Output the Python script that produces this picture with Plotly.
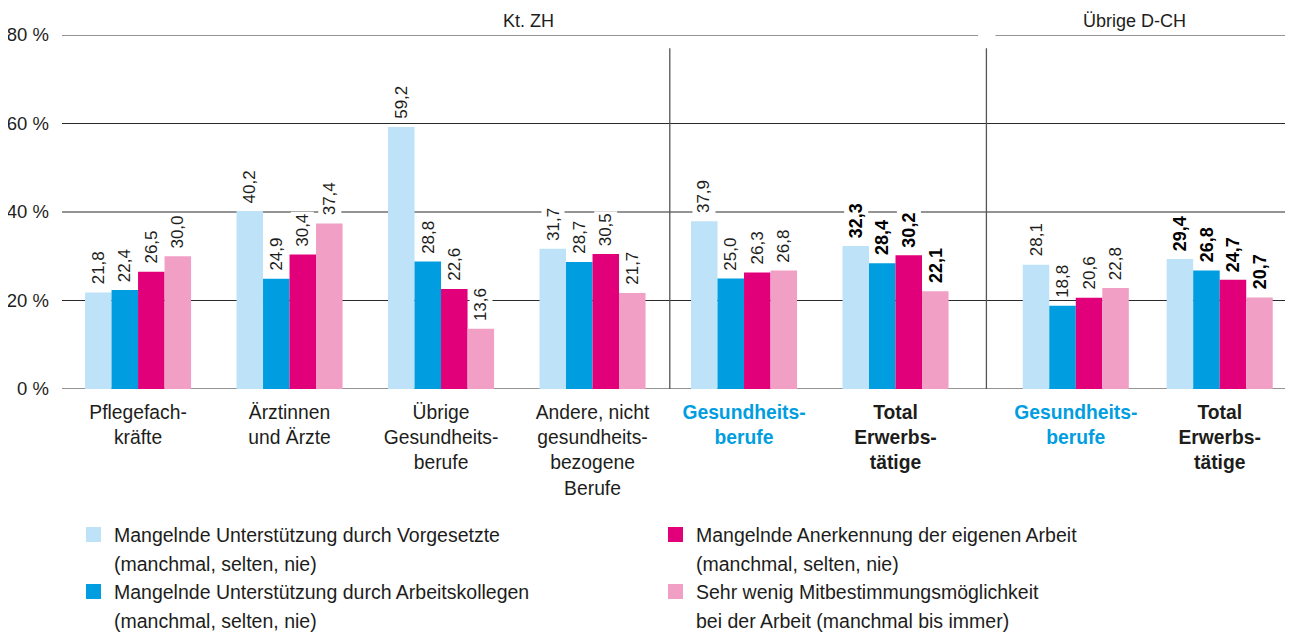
import plotly.graph_objects as go

# ---------------- data ----------------
categories = [
    "Pflegefach-<br>kräfte",
    "Ärztinnen<br>und Ärzte",
    "Übrige<br>Gesundheits-<br>berufe",
    "Andere, nicht<br>gesundheits-<br>bezogene<br>Berufe",
    "Gesundheits-<br>berufe",
    "Total<br>Erwerbs-<br>tätige",
    "Gesundheits-<br>berufe",
    "Total<br>Erwerbs-<br>tätige",
]
category_kind = ["plain", "plain", "plain", "plain", "health", "total", "health", "total"]
regions = ["Kt. ZH", "Übrige D-CH"]

series_names = [
    "Mangelnde Unterstützung durch Vorgesetzte (manchmal, selten, nie)",
    "Mangelnde Unterstützung durch Arbeitskollegen (manchmal, selten, nie)",
    "Mangelnde Anerkennung der eigenen Arbeit (manchmal, selten, nie)",
    "Sehr wenig Mitbestimmungsmöglichkeit bei der Arbeit (manchmal bis immer)",
]
legend_lines = [
    ["Mangelnde Unterstützung durch Vorgesetzte", "(manchmal, selten, nie)"],
    ["Mangelnde Unterstützung durch Arbeitskollegen", "(manchmal, selten, nie)"],
    ["Mangelnde Anerkennung der eigenen Arbeit", "(manchmal, selten, nie)"],
    ["Sehr wenig Mitbestimmungsmöglichkeit", "bei der Arbeit (manchmal bis immer)"],
]

vorgesetzte = [21.8, 40.2, 59.2, 31.7, 37.9, 32.3, 28.1, 29.4]
kollegen = [22.4, 24.9, 28.8, 28.7, 25.0, 28.4, 18.8, 26.8]
anerkennung = [26.5, 30.4, 22.6, 30.5, 26.3, 30.2, 20.6, 24.7]
mitbestimmung = [30.0, 37.4, 13.6, 21.7, 26.8, 22.1, 22.8, 20.7]

y_ticks = [0, 20, 40, 60, 80]
y_ticktext = ["0 %", "20 %", "40 %", "60 %", "80 %"]

# ---------------- styling / layout ----------------
colors = ["#BEE3F8", "#009EE0", "#E2007A", "#F29FC5"]
BLUE_TXT = "#009EE0"
INK = "#1d1d1b"
FONT = "Liberation Sans, Arial, Helvetica, sans-serif"

OFF = 8  # page body margin of the html page
W, H = 1293 - OFF, 636 - OFF
# plot area in screen pixels: x 62..1290, y 35..389
SX0, SX1, SY0, SY1 = 62, 1290, 35, 389
ML, MT = SX0 - OFF, SY0 - OFF
MR = W - (SX1 - OFF)
MB = H - (SY1 - OFF)
PW, PH = SX1 - SX0, SY1 - SY0

group_x = [0, 1, 2, 3, 4, 5, 6.19, 7.14]
XR = [-0.502, 7.604]
BW = 0.175


def pxx(px):
    return (px - SX0) / PW


def pxy(py):
    return (SY1 - py) / PH


fig = go.Figure()
series = [vorgesetzte, kollegen, anerkennung, mitbestimmung]
for i, (name, vals) in enumerate(zip(series_names, series)):
    fig.add_trace(go.Bar(
        x=group_x, y=vals, name=name,
        width=BW, offset=-2 * BW + i * BW,
        marker=dict(color=colors[i], line=dict(width=0)),
        showlegend=False, hoverinfo="y+name",
    ))

annotations = []
# value labels
for i, vals in enumerate(series):
    for g, v in enumerate(vals):
        bold = category_kind[g] == "total"
        txt = f"{v:.1f}".replace(".", ",")
        if bold:
            txt = f"<b>{txt}</b>"
        annotations.append(dict(
            x=group_x[g] - 2 * BW + i * BW + BW / 2, y=v,
            xref="x", yref="y", text=txt, showarrow=False,
            textangle=-90, xanchor="center", yanchor="bottom",
            yshift=6, bgcolor="white", borderpad=2, borderwidth=0,
            font=dict(family=FONT, size=18 if bold else 17, color="#000000" if bold else INK),
        ))

# region headers
for label, xc in zip(regions, [2.58, 6.58]):
    annotations.append(dict(
        x=xc, y=pxy(21), xref="x", yref="paper", text=label, showarrow=False,
        xanchor="center", yanchor="middle",
        font=dict(family=FONT, size=18, color=INK),
    ))

# legend (manual, two columns)
legend_pos = [(86, 527), (86, 584), (668, 527), (668, 584)]
shapes = []
for i, ((lx, ly), lines) in enumerate(zip(legend_pos, legend_lines)):
    shapes.append(dict(type="rect", xref="paper", yref="paper",
                       x0=pxx(lx), x1=pxx(lx + 15), y0=pxy(ly), y1=pxy(ly + 15),
                       fillcolor=colors[i], line=dict(width=0)))
    for k, line in enumerate(lines):
        annotations.append(dict(
            x=pxx(lx + 26), y=pxy(ly + 8 + k * 28.7), xref="paper", yref="paper",
            text=line, showarrow=False, xanchor="left", yanchor="middle",
            font=dict(family=FONT, size=19.5, color=INK),
        ))

# grid lines
GRID = "#2a2a2a"
for yv in y_ticks[:-1]:
    shapes.append(dict(type="line", xref="paper", yref="y", x0=0, x1=1, y0=yv, y1=yv,
                       line=dict(color=GRID, width=1.2), layer="below"))
shapes.append(dict(type="line", xref="x", yref="y", x0=XR[0], x1=5.545, y0=80, y1=80,
                   line=dict(color=GRID, width=1.2), layer="below"))
shapes.append(dict(type="line", xref="x", yref="y", x0=5.66, x1=XR[1], y0=80, y1=80,
                   line=dict(color=GRID, width=1.2), layer="below"))
# separators
for xv in [3.51, 5.60]:
    shapes.append(dict(type="line", xref="x", yref="y", x0=xv, x1=xv, y0=0, y1=77,
                       line=dict(color="#555555", width=1.3), layer="below"))

ticktext = []
for c, kind in zip(categories, category_kind):
    if kind == "health":
        ticktext.append(f"<span style='color:{BLUE_TXT}'><b>{c}</b></span>")
    elif kind == "total":
        ticktext.append(f"<b>{c}</b>")
    else:
        ticktext.append(c)

fig.update_layout(
    width=W, height=H,
    margin=dict(l=ML, r=MR, t=MT, b=MB, autoexpand=False),
    paper_bgcolor="white", plot_bgcolor="white",
    barmode="overlay",
    font=dict(family=FONT, size=18, color=INK),
    xaxis=dict(range=XR, tickvals=group_x, ticktext=ticktext, showgrid=False,
               zeroline=False, showline=False, ticks="", ticklabelstandoff=10,
               tickfont=dict(family=FONT, size=19.3, color=INK), fixedrange=True),
    yaxis=dict(range=[0, 80], tickvals=y_ticks, ticktext=y_ticktext, showgrid=False,
               zeroline=False, showline=False, ticks="", ticklabelstandoff=12,
               tickfont=dict(family=FONT, size=18.5, color=INK), fixedrange=True),
    annotations=annotations, shapes=shapes,
    showlegend=False,
)

fig.write_html("out.html")
